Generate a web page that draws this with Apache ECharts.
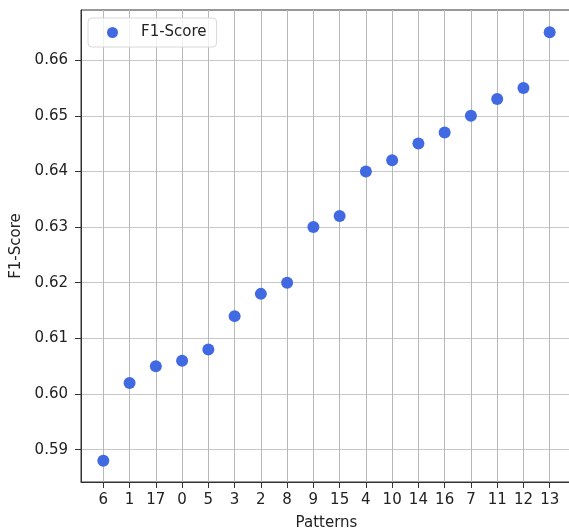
<!DOCTYPE html>
<html>
<head>
<meta charset="utf-8">
<script src="https://cdn.jsdelivr.net/npm/echarts@6/dist/echarts.min.js"></script>
<style>
  html, body { margin: 0; padding: 0; background: #fff; }
  #chart { width: 569px; height: 530px; }
</style>
</head>
<body>
<div id="chart"></div>
<script>
const patterns = ['6', '1', '17', '0', '5', '3', '2', '8', '9', '15', '4', '10', '14', '16', '7', '11', '12', '13']
const f1Scores = [0.588, 0.602, 0.605, 0.606, 0.608, 0.614, 0.618, 0.620, 0.630, 0.632,
  0.640, 0.642, 0.645, 0.647, 0.650, 0.653, 0.655, 0.665]
const yTicks = [0.59, 0.60, 0.61, 0.62, 0.63, 0.64, 0.65, 0.66]

const FONT = 'DejaVu Sans'
const xTicks = patterns.map((_, i) => i)

const chart = echarts.init(document.getElementById('chart'), null, { renderer: 'canvas' })

chart.setOption({
  animation: false,
  textStyle: { fontFamily: FONT },
  grid: {
    left: 81, right: -3, top: 10, bottom: 48,
    outerBoundsMode: 'none',
    show: true, borderColor: '#333', borderWidth: 1,
  },
  legend: {
    left: 88, top: 18,
    icon: 'circle',
    itemWidth: 11, itemHeight: 11,
    padding: [7, 10, 7, 19],
    borderColor: '#d8d8d8', borderWidth: 1, borderRadius: 4,
    backgroundColor: 'rgba(255,255,255,0.8)',
    textStyle: { fontFamily: FONT, fontSize: 15, color: '#222', padding: [0, 0, 0, 18] },
    data: ['F1-Score'],
  },
  xAxis: {
    type: 'value',
    min: -0.85, max: 17.85,
    name: 'Patterns',
    nameLocation: 'middle',
    nameGap: 34,
    nameTextStyle: { fontFamily: FONT, fontSize: 15, color: '#222' },
    axisLine: { show: true, onZero: false, lineStyle: { color: '#333', width: 1 } },
    axisTick: { show: true, length: 6, lineStyle: { color: '#333' }, customValues: xTicks },
    axisLabel: {
      customValues: xTicks,
      fontFamily: FONT, fontSize: 15, color: '#222', margin: 11,
      formatter: v => patterns[Math.round(v)],
    },
    splitLine: { show: true, lineStyle: { color: '#b8b8b8', width: 1 } },
  },
  yAxis: {
    type: 'value',
    min: 0.5842, max: 0.669,
    name: 'F1-Score',
    nameLocation: 'middle',
    nameGap: 53,
    nameTextStyle: { fontFamily: FONT, fontSize: 15, color: '#222' },
    axisLine: { show: true, onZero: false, lineStyle: { color: '#333', width: 1 } },
    axisTick: { show: true, length: 6, lineStyle: { color: '#333' }, customValues: yTicks },
    axisLabel: {
      customValues: yTicks,
      fontFamily: FONT, fontSize: 15, color: '#222', margin: 13,
      formatter: v => v.toFixed(2),
    },
    splitLine: { show: true, lineStyle: { color: '#c8c8c8', width: 1 } },
  },
  series: [{
    name: 'F1-Score',
    type: 'scatter',
    symbolSize: 12,
    itemStyle: { color: '#4169e1', opacity: 1 },
    data: f1Scores.map((v, i) => [i, v]),
  }],
})
</script>
</body>
</html>
